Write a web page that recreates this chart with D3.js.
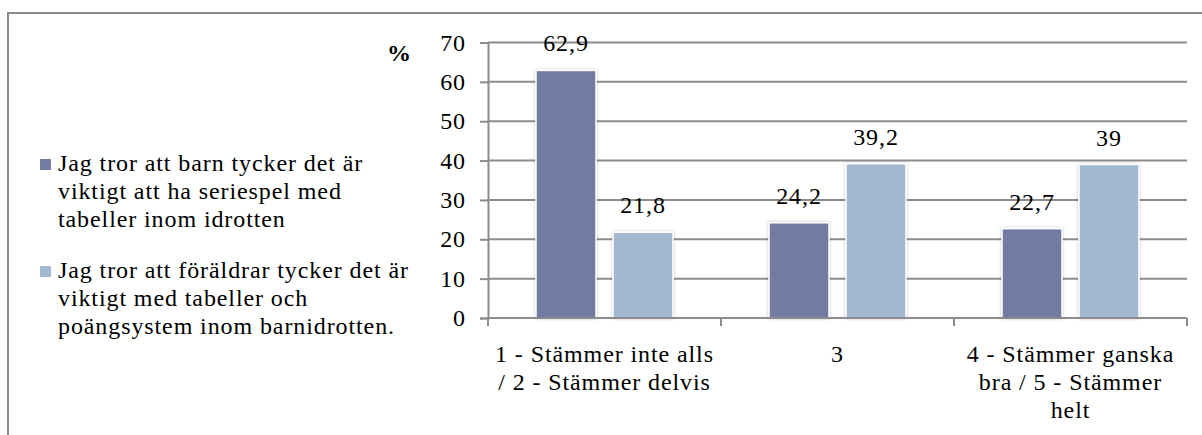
<!DOCTYPE html>
<html><head><meta charset="utf-8">
<script src="https://cdn.jsdelivr.net/npm/d3@7"></script>
<style>body{margin:0;background:#fff}svg{display:block}</style>
</head><body><svg id="c" width="1202" height="435"></svg>
<script>
const categories = ["1 - Stämmer inte alls\n/ 2 - Stämmer delvis", "3", "4 - Stämmer ganska\nbra / 5 - Stämmer\nhelt"];
const seriesNames = ["Jag tror att barn tycker det är\nviktigt att ha seriespel med\ntabeller inom idrotten",
                     "Jag tror att föräldrar tycker det är\nviktigt med tabeller och\npoängsystem inom barnidrotten."];
const seriesChildren = [62.9, 24.2, 22.7];
const seriesParents = [21.8, 39.2, 39.0];
const valueLabelsChildren = ["62,9", "24,2", "22,7"];
const valueLabelsParents = ["21,8", "39,2", "39"];
const yTicks = [0, 10, 20, 30, 40, 50, 60, 70];
const colors = ["#727BA2", "#A3B9D0"];

(function () {
const FS = 24;
const svg = d3.select("#c");
function txt(g, x, y, s, anchor, extra) {
  const t = g.append("text").attr("x", x).attr("y", y)
    .attr("text-anchor", anchor || "start")
    .attr("font-family", "Liberation Serif")
    .attr("font-size", FS).attr("letter-spacing", "0.9px").attr("fill", "#000").text(s);
  if (extra) extra(t);
  return t;
}

// outer border
svg.append("rect").attr("x", 8).attr("y", 13).attr("width", 1220).attr("height", 450)
  .attr("fill", "none").attr("stroke", "#8a8a8a").attr("stroke-width", 2);

const pL = 488, pR = 1187, pT = 42.5, pB = 318;
const x0 = d3.scaleBand().domain(d3.range(categories.length)).range([pL, pR]).paddingInner(0).paddingOuter(0);
const y = d3.scaleLinear().domain([0, 70]).range([pB, pT]);
const bw = 60, gap = 17;
const groupW = bw * 2 + gap;
const x1 = d3.scaleBand().domain([0, 1]).range([0, groupW]).paddingInner(gap / (bw + gap)).paddingOuter(0);

// gridlines
svg.append("g").selectAll("line").data(yTicks.filter(d => d > 0)).join("line")
  .attr("x1", pL).attr("x2", pR).attr("y1", d => y(d)).attr("y2", d => y(d))
  .attr("stroke", "#8c8c8c").attr("stroke-width", 2);

// y axis
const ya = svg.append("g").attr("transform", `translate(${pL},0)`)
  .call(d3.axisLeft(y).tickValues(yTicks).tickSize(8).tickFormat(""));
ya.select(".domain").attr("stroke", "#8c8c8c").attr("stroke-width", 2);
ya.selectAll(".tick line").attr("stroke", "#8c8c8c").attr("stroke-width", 2);
yTicks.forEach(v => txt(svg, 466, y(v) + 8, String(v), "end"));

// % label
txt(svg, 412, 61, "%", "end", t => t.attr("font-weight", "bold"));

// bars
const data = [seriesChildren, seriesParents];
const labels = [valueLabelsChildren, valueLabelsParents];
const defs = svg.append("defs");
const f = defs.append("filter").attr("id", "sh").attr("x", "-20%").attr("y", "-10%").attr("width", "140%").attr("height", "120%");
f.append("feDropShadow").attr("dx", 0).attr("dy", 0).attr("stdDeviation", 1.5).attr("flood-color", "#000").attr("flood-opacity", 0.25);

categories.forEach((c, i) => {
  const gx = x0(i) + (x0.bandwidth() - groupW) / 2;
  data.forEach((s, k) => {
    const bx = gx + x1(k);
    svg.append("rect").attr("x", bx).attr("y", y(s[i])).attr("width", x1.bandwidth())
      .attr("height", y(0) - y(s[i])).attr("fill", colors[k]).attr("stroke", "#fff").attr("stroke-width", 1.5)
      .attr("filter", "url(#sh)");
    txt(svg, bx + x1.bandwidth() / 2, y(s[i]) - 19, labels[k][i], "middle");
  });
});

// x axis
const xa = svg.append("g").attr("transform", `translate(0,${pB})`);
xa.append("line").attr("x1", pL).attr("x2", pR).attr("stroke", "#8c8c8c").attr("stroke-width", 2);
const edges = categories.map((c, i) => x0(i)).concat([pR]);
xa.selectAll(".tk").data(edges).join("line").attr("class", "tk")
  .attr("x1", d => d).attr("x2", d => d).attr("y1", 0).attr("y2", 8).attr("stroke", "#8c8c8c").attr("stroke-width", 2);
categories.forEach((c, i) => {
  c.split("\n").forEach((ln, j) => txt(svg, x0(i) + x0.bandwidth() / 2, 362 + j * 28, ln, "middle"));
});

// legend
const legY = [171, 278];
seriesNames.forEach((n, k) => {
  svg.append("rect").attr("x", 40).attr("y", legY[k] - 12).attr("width", 11).attr("height", 11).attr("fill", colors[k]);
  n.split("\n").forEach((ln, j) => txt(svg, 58, legY[k] + j * 28, ln, "start"));
});
})();
</script></body></html>
